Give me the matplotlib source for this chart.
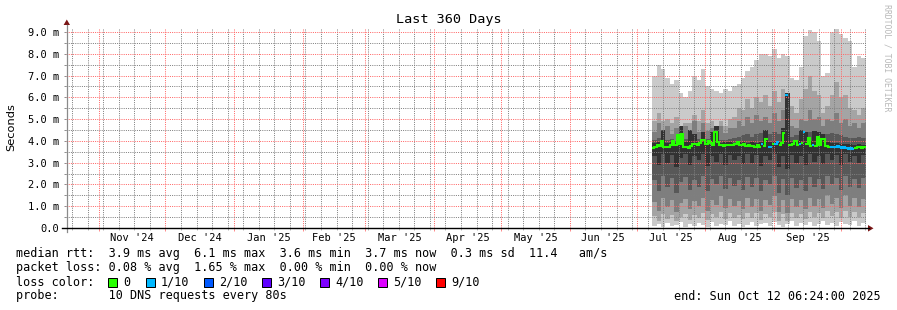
import datetime as dt
import numpy as np
import matplotlib
matplotlib.use("Agg")
import matplotlib.pyplot as plt
import matplotlib.dates as mdates
import matplotlib.transforms as mtransforms
from matplotlib.ticker import MultipleLocator, FuncFormatter, NullFormatter
from matplotlib.patches import Rectangle, Polygon
from matplotlib.lines import Line2D

W, H, DPI = 897, 310, 100

# ---------------- data ----------------
title = "Last 360 Days"
y_label = "Seconds"
watermark = "RRDTOOL / TOBI OETIKER"
range_start = dt.datetime(2024, 10, 17, 6, 24)
range_end = dt.datetime(2025, 10, 12, 6, 24)
data_start = dt.datetime(2025, 7, 8)
smoke_step_days = 2
median_step_days = 1

month_starts = [dt.datetime(2024, 11, 1), dt.datetime(2024, 12, 1), dt.datetime(2025, 1, 1),
                dt.datetime(2025, 2, 1), dt.datetime(2025, 3, 1), dt.datetime(2025, 4, 1),
                dt.datetime(2025, 5, 1), dt.datetime(2025, 6, 1), dt.datetime(2025, 7, 1),
                dt.datetime(2025, 8, 1), dt.datetime(2025, 9, 1), dt.datetime(2025, 10, 1)]
month_labels = ["Nov '24", "Dec '24", "Jan '25", "Feb '25", "Mar '25", "Apr '25",
                "May '25", "Jun '25", "Jul '25", "Aug '25", "Sep '25"]

# smoke: the 10 sorted pings (ms), 2-day consolidation
ping10 = [7.0, 7.5, 7.3, 6.9, 6.6, 6.8, 6.2, 6.0, 6.3, 7.0,
          6.8, 7.3, 6.5, 6.4, 6.3, 6.2, 6.4, 6.3, 6.5, 6.6,
          6.9, 7.2, 7.4, 7.7, 8.0, 8.0, 7.9, 8.2, 7.8, 8.0,
          7.9, 6.9, 6.8, 7.4, 8.8, 9.1, 9.0, 8.6, 7.0, 7.1,
          9.0, 9.15, 8.9, 8.7, 8.6, 7.4, 7.9, 7.8]
ping09 = [4.9, 5.3, 4.9, 5.0, 4.8, 5.1, 4.7, 4.8, 4.8, 5.2,
          4.9, 5.4, 4.8, 4.9, 4.7, 4.9, 4.7, 5.0, 5.1, 5.5,
          5.4, 5.9, 5.5, 6.0, 5.8, 6.1, 5.6, 6.3, 5.8, 6.4,
          5.7, 5.6, 5.3, 5.9, 6.4, 7.0, 6.3, 6.1, 5.3, 5.6,
          6.1, 6.7, 6.0, 6.1, 5.5, 5.4, 5.2, 5.5]
ping08 = [4.4, 4.8, 4.5, 4.7, 4.3, 4.6, 4.35, 4.7, 4.5, 4.9,
          4.4, 4.8, 4.45, 4.6, 4.3, 4.7, 4.35, 4.6, 4.6, 4.9,
          4.7, 5.1, 4.8, 5.2, 4.9, 5.1, 4.8, 5.3, 4.9, 5.4,
          4.9, 4.7, 4.6, 5.0, 4.9, 5.4, 5.0, 5.1, 4.7, 5.0,
          4.9, 5.3, 4.8, 5.0, 4.7, 4.8, 4.6, 4.8]
ping07 = [4.05, 4.15, 4.1, 4.05, 4.1, 4.0, 4.05, 4.1, 4.15, 4.2,
          4.1, 4.25, 4.1, 4.05, 4.0, 4.05, 4.05, 4.1, 4.15, 4.2,
          4.25, 4.3, 4.2, 4.3, 4.35, 4.25, 4.3, 4.4, 4.3, 4.5,
          4.3, 4.2, 4.25, 4.3, 4.35, 4.4, 4.3, 4.25, 4.2, 4.3,
          4.35, 4.3, 4.25, 4.2, 4.15, 4.15, 4.2, 4.15]
ping06 = [3.9, 3.95, 4.5, 3.9, 3.95, 3.9, 4.7, 3.95, 4.5, 4.3,
          3.95, 4.4, 3.95, 4.4, 4.7, 3.9, 3.95, 3.95, 3.9, 4.0,
          3.95, 3.9, 3.95, 3.9, 3.95, 4.5, 3.95, 4.0, 3.95, 4.6,
          6.2, 3.95, 4.0, 4.5, 4.4, 4.0, 4.45, 4.4, 4.3, 3.95,
          3.9, 3.9, 3.85, 3.85, 3.85, 3.8, 3.85, 3.8]
ping05 = [3.3, 2.9, 3.4, 3.0, 3.35, 2.8, 3.2, 3.4, 2.9, 3.3,
          3.1, 3.4, 2.85, 3.3, 3.05, 3.4, 2.9, 3.35, 3.1, 3.3,
          2.95, 3.4, 3.0, 3.35, 2.85, 3.3, 3.1, 3.4, 2.8, 3.3,
          2.7, 3.35, 3.0, 3.3, 2.9, 3.4, 3.05, 3.3, 2.95, 3.4,
          3.1, 3.35, 2.9, 3.4, 3.05, 3.3, 3.0, 3.35]
ping04 = [2.2, 1.7, 2.4, 1.9, 2.3, 1.6, 2.1, 2.35, 1.75, 2.2,
          1.9, 2.4, 1.7, 2.25, 2.0, 2.4, 1.8, 2.3, 1.95, 2.2,
          1.75, 2.35, 1.9, 2.3, 1.7, 2.2, 2.0, 2.4, 1.6, 2.25,
          1.5, 2.3, 1.85, 2.2, 1.7, 2.35, 1.9, 2.25, 1.8, 2.4,
          2.0, 2.3, 1.75, 2.4, 1.9, 2.25, 1.85, 2.3]
ping03 = [1.2, 0.8, 1.4, 0.95, 1.3, 0.75, 1.15, 1.35, 0.85, 1.25,
          1.0, 1.4, 0.8, 1.3, 1.05, 1.45, 0.9, 1.35, 1.0, 1.25,
          0.85, 1.4, 0.95, 1.35, 0.8, 1.3, 1.05, 1.45, 0.75, 1.3,
          0.7, 1.35, 0.95, 1.3, 0.85, 1.4, 1.0, 1.35, 0.9, 1.5,
          1.1, 1.4, 0.9, 1.5, 1.0, 1.4, 0.95, 1.35]
ping02 = [0.55, 0.3, 0.65, 0.4, 0.6, 0.3, 0.5, 0.65, 0.35, 0.6,
          0.45, 0.7, 0.35, 0.65, 0.5, 0.75, 0.4, 0.7, 0.45, 0.6,
          0.4, 0.7, 0.45, 0.7, 0.35, 0.65, 0.5, 0.75, 0.3, 0.65,
          0.3, 0.7, 0.45, 0.65, 0.4, 0.75, 0.5, 0.7, 0.45, 0.8,
          0.55, 0.75, 0.45, 0.8, 0.5, 0.75, 0.5, 0.7]
ping01 = [0.08, 0.18, 0.04, 0.22, 0.08, 0.12, 0.28, 0.04, 0.18, 0.08,
          0.22, 0.12, 0.04, 0.26, 0.08, 0.18, 0.12, 0.3, 0.08, 0.18,
          0.04, 0.12, 0.26, 0.08, 0.18, 0.22, 0.08, 0.26, 0.12, 0.04,
          0.18, 0.3, 0.08, 0.22, 0.12, 0.26, 0.08, 0.18, 0.3, 0.12,
          0.22, 0.08, 0.26, 0.18, 0.12, 0.3, 0.08, 0.22]

# median rtt (ms), daily
median_ms = [3.66, 3.73, 3.81, 3.75, 4.00, 3.72, 3.70, 3.74, 3.80, 3.98,
             3.82, 4.25, 3.85, 4.30, 3.72, 3.70, 3.68, 3.75, 3.84, 3.86,
             3.82, 3.88, 4.05, 4.02, 3.85, 3.98, 3.90, 3.80, 4.40, 3.95,
             3.80, 3.82, 3.78, 3.80, 3.82, 3.79, 3.80, 3.84, 3.96, 3.80,
             3.83, 3.86, 3.78, 3.80, 3.76, 3.78, 3.74, 3.80, 3.72, 3.85,
             3.76, 4.10, 3.73, 3.72, 3.86, 3.84, 3.95, 3.82, 3.90, 4.35,
             6.10, 3.80, 3.82, 3.86, 3.98, 3.80, 3.84, 3.90, 4.40, 3.85,
             4.15, 3.78, 3.80, 3.76, 4.20, 3.82, 4.10, 4.08, 3.78, 3.72,
             3.74, 3.70, 3.72, 3.75, 3.70, 3.68, 3.72, 3.66, 3.64, 3.66,
             3.62, 3.68, 3.70, 3.72, 3.68, 3.70]
# lost packets out of 10, daily
loss_count = [0, 0, 0, 0, 0, 0, 0, 0, 0, 0,
              0, 0, 0, 0, 0, 0, 0, 0, 0, 0,
              0, 0, 0, 0, 0, 0, 0, 0, 0, 0,
              0, 0, 0, 0, 0, 0, 0, 0, 0, 0,
              0, 0, 0, 0, 0, 0, 0, 0, 0, 1,
              0, 0, 1, 1, 0, 1, 1, 0, 0, 0,
              1, 0, 0, 0, 0, 0, 1, 0, 1, 0,
              0, 0, 1, 0, 0, 0, 0, 0, 0, 0,
              1, 1, 1, 1, 1, 1, 1, 1, 1, 1,
              1, 0, 0, 0, 0, 0]

loss_levels = [0, 1, 2, 3, 4, 5, 9]
loss_names = ["0", "1/10", "2/10", "3/10", "4/10", "5/10", "9/10"]
loss_colors = ["#26ff00", "#00b8ff", "#0059ff", "#5e00ff", "#7e00ff", "#dd00ff", "#ff0000"]
smoke_colors = ["#cacaca", "#a4a4a4", "#7e7e7e", "#585858", "#323232"]

legend_lines = [
    "median rtt:  3.9 ms avg  6.1 ms max  3.6 ms min  3.7 ms now  0.3 ms sd  11.4   am/s",
    "packet loss: 0.08 % avg  1.65 % max  0.00 % min  0.00 % now",
    "loss color:",
    "probe:       10 DNS requests every 80s",
]
end_text = "end: Sun Oct 12 06:24:00 2025"

# ---------------- figure ----------------
plt.rcParams["font.family"] = ["DejaVu Sans Mono"]
fig = plt.figure(figsize=(W / DPI, H / DPI), dpi=DPI, facecolor="white")


def fx(x):
    return x / W


def fy(y):
    return 1 - y / H


ax_left, ax_right, ax_top, ax_bottom = 66.0, 866.0, 27.6, 228.0
ax = fig.add_axes([fx(ax_left), fy(ax_bottom), (ax_right - ax_left) / W, (ax_bottom - ax_top) / H])
ax.set_facecolor("white")
x0 = mdates.date2num(range_start)
x1 = mdates.date2num(range_end)
ax.set_xlim(x0, x1)
ax.set_ylim(0, 9.2)
for s in ax.spines.values():
    s.set_visible(False)

# smoke bands
pings = [ping01, ping02, ping03, ping04, ping05, ping06, ping07, ping08, ping09, ping10]
n_bins = len(ping01)
t_edges = [data_start + dt.timedelta(days=smoke_step_days * i) for i in range(n_bins + 1)]
t_edges[-1] = range_end
xe = mdates.date2num(t_edges)
for k in range(5):
    lo = np.array(pings[k] + [pings[k][-1]])
    hi = np.array(pings[9 - k] + [pings[9 - k][-1]])
    ax.fill_between(xe, lo, hi, step="post", facecolor=smoke_colors[k],
                    edgecolor="none", linewidth=0, zorder=1 + k * 0.01)

# grid (drawn above the smoke like rrdtool)
ax.set_axisbelow(False)
ax.xaxis.set_major_locator(mdates.MonthLocator())
ax.xaxis.set_minor_locator(mdates.WeekdayLocator(byweekday=mdates.SU))
ax.yaxis.set_major_locator(MultipleLocator(1))
ax.yaxis.set_minor_locator(MultipleLocator(0.5))
ax.xaxis.set_major_formatter(NullFormatter())
ax.xaxis.set_minor_formatter(NullFormatter())
ax.yaxis.set_major_formatter(FuncFormatter(lambda v, p: "0.0" if abs(v) < 1e-9 else f"{v:.1f} m"))
ax.yaxis.set_minor_formatter(NullFormatter())
red_grid = (1.0, 0.4, 0.4, 0.32)
gray_grid = (0.5, 0.5, 0.5, 0.22)
ax.grid(which="major", color=red_grid, linestyle=(0, (1, 1.2)), linewidth=0.72)
ax.grid(which="minor", color=gray_grid, linestyle=(0, (1, 1.2)), linewidth=0.72)
ax.tick_params(axis="x", which="major", direction="out", length=2.0, width=0.72,
               color=(1.0, 0.55, 0.55), labelbottom=False)
ax.tick_params(axis="x", which="minor", direction="out", length=1.5, width=0.72,
               color="#b8b8b8")
ax.tick_params(axis="y", which="both", direction="out", length=1.6, width=0.72,
               color="#909090", pad=3.0, labelsize=7.5)

# median line coloured by loss (each loss level drawn separately, gaps elsewhere)
day_edges = [data_start + dt.timedelta(days=median_step_days * i) for i in range(len(median_ms) + 1)]
day_edges[-1] = range_end
xd = mdates.date2num(day_edges)
med = np.array(median_ms + [median_ms[-1]])
loss = np.array(loss_count + [loss_count[-1]])
for lvl, col in zip(loss_levels, loss_colors):
    m = np.where(loss == lvl, med, np.nan)
    if np.all(np.isnan(m)):
        continue
    ax.plot(xd, m, drawstyle="steps-post", color=col, linewidth=1.5,
            solid_joinstyle="miter", solid_capstyle="butt", zorder=4)

# month labels centred on each month
lab_trans = mtransforms.blended_transform_factory(ax.transData, fig.transFigure)
for i, lab in enumerate(month_labels):
    mid = month_starts[i] + (month_starts[i + 1] - month_starts[i]) / 2
    ax.text(mdates.date2num(mid), fy(241.0), lab, transform=lab_trans,
            ha="center", va="baseline", fontsize=7.5, color="black", clip_on=False)

# axis lines and arrows
fig.add_artist(Line2D([fx(66.8), fx(66.8)], [fy(231.5), fy(24.5)], color="#8a8a8a",
                      linewidth=0.9, transform=fig.transFigure))
fig.add_artist(Line2D([fx(62), fx(868.5)], [fy(228.3), fy(228.3)], color="black",
                      linewidth=1.0, transform=fig.transFigure))
arrow_col = "#7a1515"
fig.add_artist(Polygon([[fx(66.8), fy(19.5)], [fx(63.6), fy(25.0)], [fx(70.0), fy(25.0)]],
                       closed=True, facecolor=arrow_col, edgecolor="none", transform=fig.transFigure))
fig.add_artist(Polygon([[fx(873.5), fy(228.3)], [fx(868.0), fy(225.0)], [fx(868.0), fy(231.6)]],
                       closed=True, facecolor=arrow_col, edgecolor="none", transform=fig.transFigure))

# texts
fig.text(fx(448.5), fy(22.5), title, ha="center", va="baseline", fontsize=9.7, color="black")
fig.text(fx(11.0), fy(127.0), y_label, ha="center", va="center", rotation=90,
         fontsize=8.2, color="black", family=["DejaVu Sans"])
fig.text(fx(886.5), fy(4.0), watermark, ha="center", va="top", rotation=270,
         fontsize=5.9, color="#b8b8b8")

baselines = [257.5, 271.5, 285.5, 299.5]
for txt, yb in zip(legend_lines, baselines):
    fig.text(fx(16.0), fy(yb), txt, ha="left", va="baseline", fontsize=8.5, color="black")
fig.text(fx(881.0), fy(baselines[3]), end_text, ha="right", va="baseline", fontsize=8.5, color="black")

# loss colour boxes
box_x = [108.0, 146.0, 204.0, 262.0, 320.0, 378.0, 436.0]
for bx, name, col in zip(box_x, loss_names, loss_colors):
    fig.add_artist(Rectangle((fx(bx), fy(286.5)), 9.0 / W, 9.0 / H, facecolor=col,
                             edgecolor="black", linewidth=0.72, transform=fig.transFigure))
    fig.text(fx(bx + 15.0), fy(baselines[2]), name, ha="left", va="baseline",
             fontsize=8.5, color="black")

fig.savefig("out.png", dpi=DPI, facecolor="white")
